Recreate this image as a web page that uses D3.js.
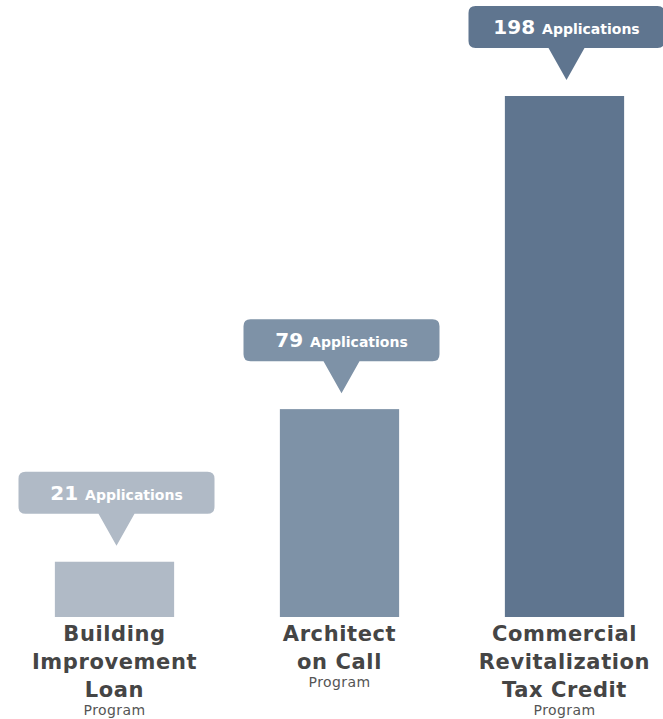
<!DOCTYPE html>
<html>
<head>
<meta charset="utf-8">
<script src="https://cdnjs.cloudflare.com/ajax/libs/d3/7.8.5/d3.min.js"></script>
<style>
  body { margin: 0; background: #fff; }
  svg { display: block; }
</style>
</head>
<body>
<div id="chart"></div>
<script>
// data
var programs = ['Building Improvement Loan', 'Architect on Call', 'Commercial Revitalization Tax Credit'];
var programLines = [['Building', 'Improvement', 'Loan'], ['Architect', 'on Call'], ['Commercial', 'Revitalization', 'Tax Credit']];
var applications = [21, 79, 198];
var unitLabel = 'Applications';
var subLabel = 'Program';

var width = 663, height = 719;
var baseline = 617;
var font = 'DejaVu Sans, sans-serif';

var svg = d3.select('#chart').append('svg')
  .attr('width', width)
  .attr('height', height);

var x = d3.scaleBand()
  .domain(programs)
  .range([2, 677])
  .paddingInner(0.47)
  .paddingOuter(0.235);

var y = d3.scaleLinear()
  .domain([0, 198])
  .range([baseline, 96]);

var color = d3.scaleOrdinal()
  .domain(programs)
  .range(['#b0bac6', '#7e92a7', '#5f758f']);

var rows = programs.map(function(p, i) {
  return {name: p, value: applications[i], lines: programLines[i]};
});

var g = svg.selectAll('.bar')
  .data(rows)
  .enter()
  .append('g')
  .attr('class', 'bar');

g.append('rect')
  .attr('x', d => x(d.name))
  .attr('y', d => y(d.value))
  .attr('width', x.bandwidth())
  .attr('height', d => baseline - y(d.value))
  .attr('fill', d => color(d.name));

// callout bubble
var bw = 196, bh = 42, tailW = 36, tailH = 32;
var callout = g.append('g')
  .attr('transform', d => `translate(${x(d.name) + x.bandwidth() / 2 + 2}, ${y(d.value) - 16})`);

callout.append('path')
  .attr('d', function() {
    var r = 7, left = -bw / 2, right = bw / 2, bottom = -tailH, top = bottom - bh;
    return `M${left + r},${top} H${right - r} Q${right},${top} ${right},${top + r}` +
      ` V${bottom - r} Q${right},${bottom} ${right - r},${bottom}` +
      ` H${tailW / 2} L0,0 L${-tailW / 2},${bottom}` +
      ` H${left + r} Q${left},${bottom} ${left},${bottom - r}` +
      ` V${top + r} Q${left},${top} ${left + r},${top} Z`;
  })
  .attr('fill', d => color(d.name));

var ct = callout.append('text')
  .attr('y', -tailH - bh / 2 + 7)
  .attr('text-anchor', 'middle')
  .attr('fill', '#fff')
  .style('font-family', font)
  .style('font-weight', 'bold');
ct.append('tspan').style('font-size', '20px').text(d => d.value);
ct.append('tspan').style('font-size', '14px').attr('dx', 7).text(unitLabel);

// category labels
var label = g.append('text')
  .attr('text-anchor', 'middle')
  .attr('fill', '#454545')
  .style('font-family', font)
  .style('letter-spacing', '0.6px');

label.selectAll('tspan')
  .data(d => d.lines.map(l => ({line: l, cx: x(d.name) + x.bandwidth() / 2})))
  .enter()
  .append('tspan')
  .attr('x', d => d.cx)
  .attr('y', (d, i) => 641 + i * 28)
  .style('font-size', '21px')
  .style('font-weight', 'bold')
  .text(d => d.line);

g.append('text')
  .attr('x', d => x(d.name) + x.bandwidth() / 2)
  .attr('y', d => 641 + (d.lines.length - 1) * 28 + 18)
  .attr('text-anchor', 'middle')
  .attr('fill', '#555')
  .style('font-family', font)
  .style('font-size', '14px')
  .style('letter-spacing', '0.4px')
  .text(subLabel);
</script>
</body>
</html>
